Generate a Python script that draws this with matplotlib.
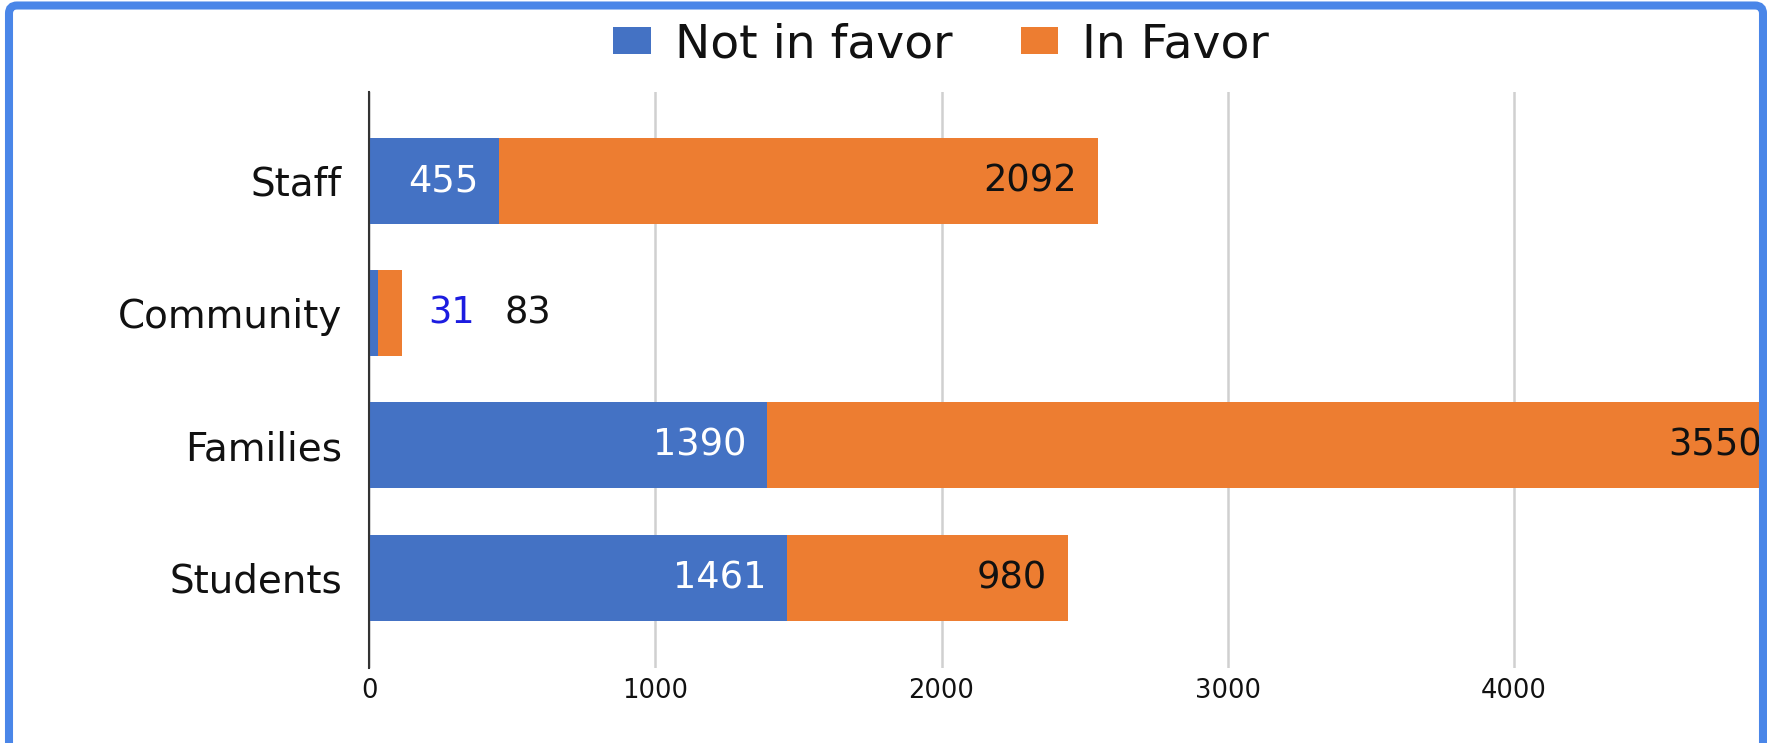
import matplotlib.pyplot as plt
from matplotlib.patches import FancyBboxPatch
from matplotlib.transforms import IdentityTransform

# data
groups = ['Staff', 'Community', 'Families', 'Students']
not_in_favor = [455, 31, 1390, 1461]
in_favor = [2092, 83, 3550, 980]
x_ticks = [0, 1000, 2000, 3000, 4000]

blue = '#4472c4'
orange = '#ed7d31'
W, H = 1767, 743

fig = plt.figure(figsize=(W / 100, H / 100), dpi=100)
fig.patch.set_facecolor('white')

# axes placed in pixel terms (left at the zero line)
left, top, bottom = 369, 92, 668
ax = fig.add_axes([left / W, 1 - bottom / H, (W - left) / W, (bottom - top) / H])

ypos = list(range(len(groups)))
h = 0.65
ax.barh(ypos, not_in_favor, height=h, color=blue, label='Not in favor', zorder=2)
ax.barh(ypos, in_favor, left=not_in_favor, height=h, color=orange, label='In Favor', zorder=2)

px_per_unit = (1514 - 369) / 4000
ax.set_xlim(0, (W - left) / px_per_unit)
ax.set_ylim(3.684, -0.673)

ax.set_yticks(ypos)
ax.set_yticklabels(groups, fontsize=28, color='#111111')
ax.set_xticks(x_ticks)
ax.set_xticklabels([str(t) for t in x_ticks], fontsize=18.5, color='#111111')
ax.tick_params(axis='y', length=0, pad=19.5)
ax.tick_params(axis='x', length=0, pad=7.5)

ax.xaxis.grid(True, color='#d0d0d0', linewidth=1.8, zorder=0)
ax.set_axisbelow(True)
for s in ['top', 'right', 'bottom']:
    ax.spines[s].set_visible(False)
ax.spines['left'].set_color('#333333')
ax.spines['left'].set_linewidth(1.5)
ax.spines['left'].set_zorder(3)

# value labels
fs = 26.5
for i in ypos:
    a, b = not_in_favor[i], in_favor[i]
    total = a + b
    if total < 300:
        ax.annotate(str(a), (total, i), xytext=(19, 0), textcoords='offset points',
                    ha='left', va='center', fontsize=fs, color='#1c1ce0',
                    annotation_clip=False)
        ax.annotate(str(b), (total, i), xytext=(74, 0), textcoords='offset points',
                    ha='left', va='center', fontsize=fs, color='#111111',
                    annotation_clip=False)
    else:
        ax.annotate(str(a), (a, i), xytext=(-15, 0), textcoords='offset points',
                    ha='right', va='center', fontsize=fs, color='white',
                    annotation_clip=False)
        ax.annotate(str(b), (total, i), xytext=(-15, 0), textcoords='offset points',
                    ha='right', va='center', fontsize=fs, color='#111111',
                    annotation_clip=False)

fig.legend(loc='center', bbox_to_anchor=(941 / W, 1 - 45 / H), ncol=2, frameon=False,
           fontsize=34, handlelength=0.8, handleheight=0.5, handletextpad=0.5,
           columnspacing=1.45, labelcolor='#111111')

# blue frame around the screenshot
frame = FancyBboxPatch((9, -40), 1763 - 9, (H - 5.5) + 40, boxstyle='round,pad=0,rounding_size=8',
                       transform=IdentityTransform(), fill=False, edgecolor='#4a86e8',
                       linewidth=5.8, zorder=10)
fig.add_artist(frame)

fig.savefig('out.png', dpi=100)
